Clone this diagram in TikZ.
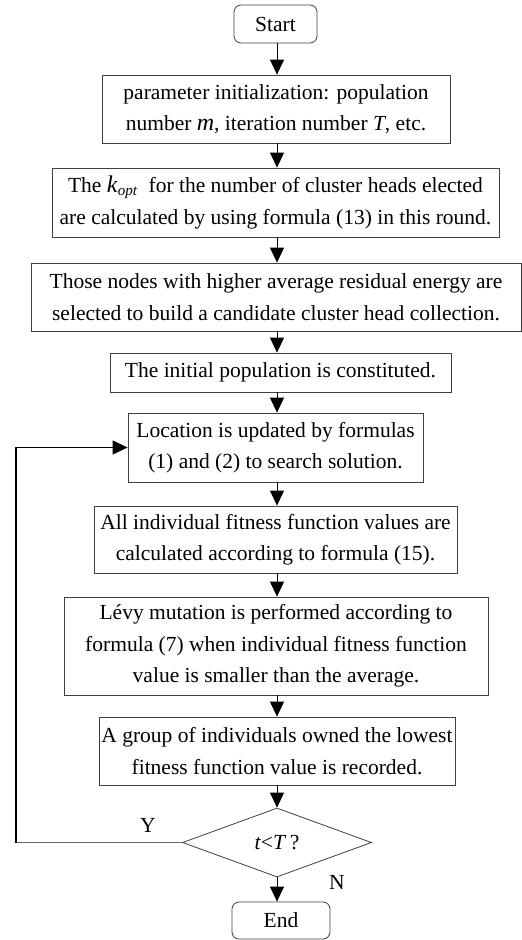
\documentclass[tikz,border=0pt]{standalone}
\usepackage{fontspec}
\setmainfont{Liberation Serif}
\usetikzlibrary{arrows.meta,shapes.geometric}
\begin{document}
\begin{tikzpicture}[x=1pt,y=-1pt,
  every node/.style={font=\fontsize{21.5}{31.5}\selectfont, inner sep=0pt, align=center},
  box/.style={draw=black!75, line width=0.8pt, rectangle},
  term/.style={draw=black!75, line width=0.8pt, rectangle, rounded corners=7pt},
  decide/.style={draw=black!75, line width=0.8pt, diamond, aspect=2.75},
  arr/.style={draw=black, line width=1pt, -{Triangle[length=15pt,width=14pt]}},
  loopline/.style={draw=black, line width=1.2pt, -{Triangle[length=15pt,width=14pt]}},
  loopbase/.style={draw=black!60, line width=1.8pt}
]
\useasboundingbox (0,0) rectangle (522,940);
\coordinate (axis) at (277,0);

\node[term, minimum width=83pt, minimum height=38pt] (start) at (275.5,24) {Start};
\node[box, minimum width=348pt, minimum height=68pt] (b2) at (276,109)
  {parameter initialization: population\\number \textit{\fontsize{24}{31.5}\selectfont m}, iteration number \textit{T}, etc.};
\node[box, minimum width=447pt, minimum height=69pt] (b3) at (275.5,202.5)
  {The \textit{\fontsize{24}{31.5}\selectfont k}\textsubscript{\textit{opt}}\ \ for the number of cluster heads elected\\are calculated by using formula (13) in this round.};
\node[box, minimum width=490pt, minimum height=68pt] (b4) at (276,297)
  {Those nodes with higher average residual energy are\\selected to build a candidate cluster head collection.};
\node[box, minimum width=341pt, minimum height=39pt] (b5) at (280.5,372.5)
  {The initial population is constituted.};
\node[box, minimum width=295pt, minimum height=69pt] (b6) at (275.5,447.5)
  {Location is updated by formulas\\(1) and (2) to search solution.};
\node[box, minimum width=363pt, minimum height=67pt] (b7) at (275.5,539.5)
  {All individual fitness function values are\\calculated according to formula (15).};
\node[box, minimum width=424pt, minimum height=98pt] (b8) at (276,646)
  {Lévy mutation is performed according to\\formula (7) when individual fitness function\\value is smaller than the average.};
\node[box, minimum width=356pt, minimum height=68pt] (b9) at (277,751)
  {A group of individuals owned the lowest\\fitness function value is recorded.};
\node[decide, minimum width=189pt, minimum height=69pt] (dec) at (277,842.5)
  {\textit{t}<\textit{T}\,?};
\node[term, minimum width=98pt, minimum height=37pt] (end) at (281,920.5) {End};

\draw[arr] (start.south -| axis) -- (b2.north -| axis);
\draw[arr] (b2.south -| axis) -- (b3.north -| axis);
\draw[arr] (b3.south -| axis) -- (b4.north -| axis);
\draw[arr] (b4.south -| axis) -- (b5.north -| axis);
\draw[arr] (b5.south -| axis) -- (b6.north -| axis);
\draw[arr] (b6.south -| axis) -- (b7.north -| axis);
\draw[arr] (b7.south -| axis) -- (b8.north -| axis);
\draw[arr] (b8.south -| axis) -- (b9.north -| axis);
\draw[arr] (b9.south -| axis) -- (dec.north);
\draw[arr] (dec.south) -- (end.north -| dec.south);

\coordinate (loopc) at (16,842.5);
\draw[loopbase] (dec.west) -- (loopc);
\draw[loopline] (loopc) |- (b6.west);

\node (ylab) at (148,825) {Y};
\node (nlab) at (337,882) {N};
\end{tikzpicture}
\end{document}
